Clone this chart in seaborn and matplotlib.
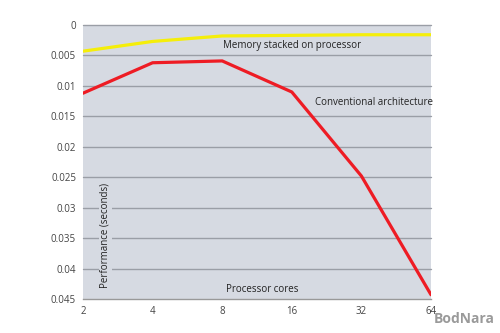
import matplotlib
matplotlib.use("Agg")
import matplotlib.pyplot as plt
import seaborn as sns
import pandas as pd

cores = [2, 4, 8, 16, 32, 64]
stacked = [0.0043, 0.0027, 0.0018, 0.0017, 0.0016, 0.0016]
conventional = [0.0112, 0.0062, 0.0059, 0.0110, 0.0248, 0.0443]
yticks = [0, 0.005, 0.01, 0.015, 0.02, 0.025, 0.03, 0.035, 0.04, 0.045]
ytick_labels = ["0", "0.005", "0.01", "0.015", "0.02", "0.025", "0.03", "0.035", "0.04", "0.045"]

df = pd.DataFrame({"cores": cores * 2,
                   "perf": stacked + conventional,
                   "series": ["Memory stacked on processor"] * 6 + ["Conventional architecture"] * 6})

sns.set_style("white")
plt.rcParams['font.family'] = ['Open Sans', 'DejaVu Sans']

fig = plt.figure(figsize=(5, 3.33), dpi=100)
ax = fig.add_axes([83/500, 1 - 299/333, (431-83)/500, (299-25)/333])
bg = "#d6dae2"
ax.set_facecolor(bg)

ax.set_xscale("log", base=2)
for y in yticks[:-1]:
    ax.axhline(y, color="#9a9ea6", lw=1, zorder=1, clip_on=False)

sns.lineplot(data=df, x="cores", y="perf", hue="series",
             palette={"Memory stacked on processor": "#f5ee0a",
                      "Conventional architecture": "#ee1c24"},
             linewidth=2.3, legend=False, ax=ax, zorder=3)

ax.set_xlim(2, 64)
ax.set_ylim(0.045, 0)
ax.set_xticks(cores)
ax.set_xticklabels([str(c) for c in cores])
ax.minorticks_off()
ax.set_yticks(yticks)
ax.set_yticklabels(ytick_labels)
ax.tick_params(axis="both", labelsize=7, length=3, width=0.8,
               color="#888888", pad=2, labelcolor="#444444")
ax.set_xlabel("")
ax.set_ylabel("")
for s in ["top", "right", "left"]:
    ax.spines[s].set_visible(False)
ax.spines["bottom"].set_color("#999999")
ax.spines["bottom"].set_linewidth(1)

ax.text(8.05, 0.0034, "Memory stacked on processor", fontsize=7, color="#222222",
        ha="left", va="center", zorder=4)
ax.text(20.2, 0.0127, "Conventional architecture", fontsize=7, color="#222222",
        ha="left", va="center", zorder=4)
ax.text(2.5, 0.0345, "Performance (seconds)", fontsize=7, color="#222222",
        rotation=90, ha="center", va="center", zorder=4,
        bbox=dict(facecolor=bg, edgecolor="none", pad=0.8))
ax.text(8.3, 0.0435, "Processor cores", fontsize=7, color="#222222",
        ha="left", va="center", zorder=4)

fig.text(0.99, 0.02, "BodNara", fontsize=10, color="#9a9a9a", ha="right", va="bottom",
         fontweight="bold")

fig.savefig("out.png", dpi=100)
